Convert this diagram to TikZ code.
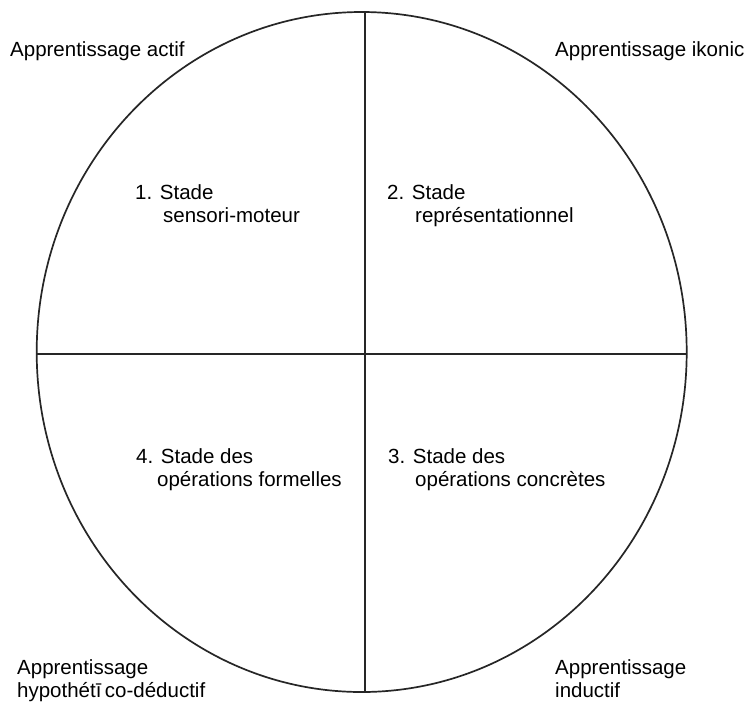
\documentclass[tikz,border=0pt]{standalone}
\usepackage{fontspec}
\setmainfont{Liberation Sans}
\begin{document}
\begin{tikzpicture}[x=1pt,y=-1pt,
  lbl/.style={anchor=base west,inner sep=0pt,font=\fontsize{20.5}{24}\selectfont},
  rim/.style={line width=1.7pt,black!85},
  divider/.style={line width=1.2pt,black!85}]
\useasboundingbox[fill=white] (0,0) rectangle (751,702);
% outer circle
\draw[rim] (361.7,352) ellipse [x radius=325pt, y radius=340pt];
% quadrant dividers
\coordinate (vtop) at (365,12.2);
\coordinate (vbot) at (365,691.8);
\coordinate (hleft) at (36.8,354);
\coordinate (hright) at (686.6,354);
\draw[divider] (vtop) -- (vbot);
\draw[divider] (hleft) -- (hright);
% corner labels
\node[lbl] (la) at (10,56) {Apprentissage actif};
\node[lbl] (lb) at (555,56) {Apprentissage ikonic};
\node[lbl] (lc1) at (17,674) {Apprentissage};
\node[lbl] (lc2) at (17,697) {hypothétī\,co-déductif};
\node[lbl] (ld1) at (555,674) {Apprentissage};
\node[lbl] (ld2) at (555,697) {inductif};
% stages
\node[lbl] (s1a) at (135,199) {1. Stade};
\node[lbl] (s1b) at (163,222) {sensori-moteur};
\node[lbl] (s2a) at (387,199) {2. Stade};
\node[lbl] (s2b) at (415,222) {représentationnel};
\node[lbl] (s4a) at (136,463) {4. Stade des};
\node[lbl] (s4b) at (157,486) {opérations formelles};
\node[lbl] (s3a) at (388,463) {3. Stade des};
\node[lbl] (s3b) at (415,486) {opérations concrètes};
\end{tikzpicture}
\end{document}
